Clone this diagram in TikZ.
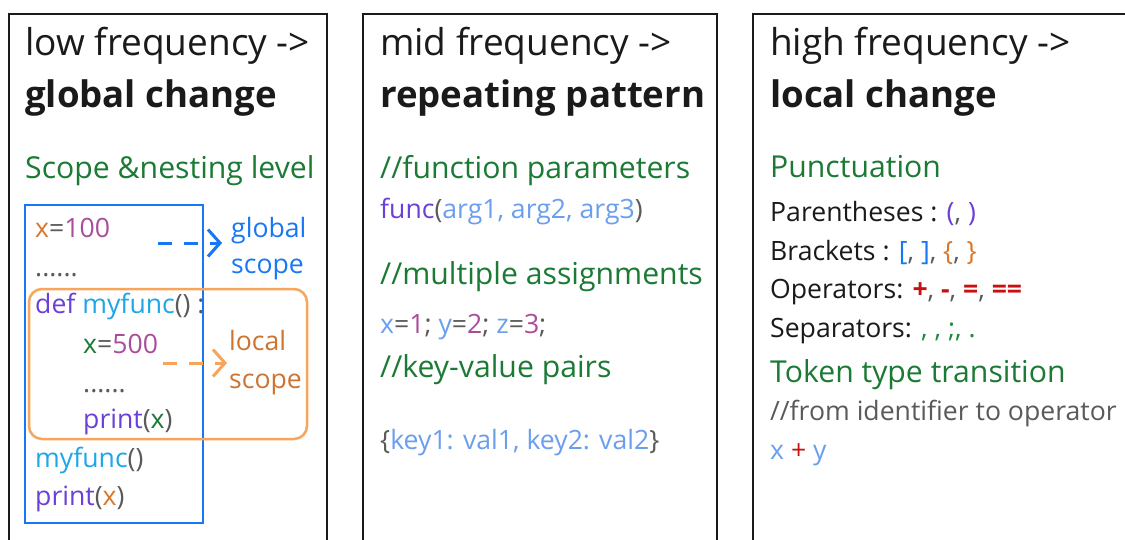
\documentclass[tikz,border=0pt]{standalone}
\usepackage{fontspec}
\setmainfont{Open Sans}
\usetikzlibrary{arrows.meta}
\definecolor{hgreen}{HTML}{1B7A34}
\definecolor{corange}{HTML}{D9782C}
\definecolor{cmag}{HTML}{A94D9A}
\definecolor{cgray}{HTML}{5A5A5A}
\definecolor{cpurple}{HTML}{6B3FD8}
\definecolor{clblue}{HTML}{1FA6E8}
\definecolor{cblue}{HTML}{1777F5}
\definecolor{clocal}{HTML}{CC7430}
\definecolor{cobox}{HTML}{F7A55C}
\definecolor{carg}{HTML}{6A9EEE}
\definecolor{cred}{HTML}{C81010}
\definecolor{csep}{HTML}{1E8A3A}
\definecolor{cblack}{HTML}{1A1A1A}
\newcommand{\cg}[1]{{\color{cgray}#1}}
\tikzset{
  txt/.style={inner sep=0pt, anchor=base west},
  ttl/.style={txt, font=\fontsize{37}{41}\selectfont, text=cblack},
  ttlb/.style={txt, font=\fontsize{36.6}{41}\selectfont\bfseries, text=cblack},
  hdr/.style={txt, font=\fontsize{30.2}{34}\selectfont, text=hgreen},
  code/.style={txt, font=\fontsize{26.6}{31}\selectfont, text=cblack},
  panel/.style={draw=cblack, line width=2pt},
  scopearrow/.style={line width=3pt, dash pattern=on 14pt off 12pt, -{Straight Barb[length=12pt,width=27pt,line width=3pt]}}
}
\begin{document}
\begin{tikzpicture}[x=1pt,y=-1pt]
\useasboundingbox (0,0) rectangle (1125,539);
\clip (0,0) rectangle (1125,539);
\fill[white] (0,0) rectangle (1125,539);
% panels
\draw[panel] (9,14) rectangle (327,560);
\draw[panel] (363,14) rectangle (717,560);
\draw[panel] (753,14) rectangle (1140,560);

% ---------- panel 1
\node[ttl] (t1a) at (25,55) {low frequency ->};
\node[ttlb] (t1b) at (25,107) {global change};
\node[hdr] (h1) at (25,178) {Scope \&nesting level};

\node[code] (c1) at (35,237) {{\color{corange}x}\cg{=}{\color{cmag}100}};
\node[code] (c2) at (35,276) {\cg{......}};
\node[code] (c3) at (35,313) {{\color{cpurple}def} {\color{clblue}myfunc}\cg{() :}};
\node[code] (c4) at (83,353) {{\color{hgreen}x}\cg{=}{\color{cmag}500}};
\node[code] (c5) at (83,392) {\cg{......}};
\node[code] (c6) at (83,428) {{\color{cpurple}print}\cg{(}{\color{hgreen}x}\cg{)}};
\node[code] (c7) at (35,467) {{\color{clblue}myfunc}\cg{()}};
\node[code] (c8) at (35,505) {{\color{cpurple}print}\cg{(}{\color{corange}x}\cg{)}};

\node[code, text=cblue] (g1) at (231,237) {global};
\node[code, text=cblue] (g2) at (231,273) {scope};
\node[code, text=clocal] (l1) at (229,350) {local};
\node[code, text=clocal] (l2) at (229,388) {scope};

\draw[cblue, line width=2pt] (25,205) rectangle (203,523);
\draw[cobox, line width=2.5pt, rounded corners=13pt] (29,289) rectangle (307,439);

\coordinate (gaS) at (158,243);
\coordinate (gaE) at (222,243);
\coordinate (laS) at (163,363);
\coordinate (laE) at (227,363);
\draw[scopearrow, cblue] (gaS) -- (gaE);
\draw[scopearrow, cobox] (laS) -- (laE);

% ---------- panel 2
\node[ttl] (t2a) at (380,55) {mid frequency ->};
\node[ttlb] (t2b) at (380,107) {repeating pattern};
\node[hdr] (h2a) at (380,178) {//function parameters};
\node[code] (m1) at (380,218) {{\color{cpurple}func}\cg{(}{\color{carg}arg1, arg2, arg3}\cg{)}};
\node[hdr] (h2b) at (380,284) {//multiple assignments};
\node[code] (m2) at (380,333) {{\color{carg}x}\cg{=}{\color{cmag}1}\cg{;} {\color{carg}y}\cg{=}{\color{cmag}2}\cg{;} {\color{carg}z}\cg{=}{\color{cmag}3}\cg{;}};
\node[hdr] (h2c) at (380,377) {//key-value pairs};
\node[code] (m3) at (380,449) {\cg{\{}{\color{carg}key1: val1, key2: val2}\cg{\}}};

% ---------- panel 3
\node[ttl] (t3a) at (770,55) {high frequency ->};
\node[ttlb] (t3b) at (770,107) {local change};
\node[hdr] (h3a) at (770,177) {Punctuation};
\node[code] (r1) at (770,221) {Parentheses : {\color{cpurple}(}\cg{,} {\color{cpurple})}};
\node[code] (r2) at (770,260) {Brackets : {\color{cblue}[}\cg{,} {\color{cblue}]}\cg{,} {\color{corange}\{}\cg{,} {\color{corange}\}}};
\node[code] (r3) at (770,298) {Operators: {\color{cred}\bfseries +}\cg{,} {\color{cred}\bfseries -}\cg{,} {\color{cred}\bfseries =}\cg{,} {\color{cred}\bfseries ==}};
\node[code] (r4) at (770,337) {Separators: {\color{csep}, , ;, .}};
\node[hdr] (h3b) at (770,382) {Token type transition};
\node[code, text=cgray] (r5) at (770,420) {//from identifier to operator};
\node[code] (r6) at (770,459) {{\color{carg}x} {\color{cred}+} {\color{carg}y}};
\end{tikzpicture}
\end{document}
